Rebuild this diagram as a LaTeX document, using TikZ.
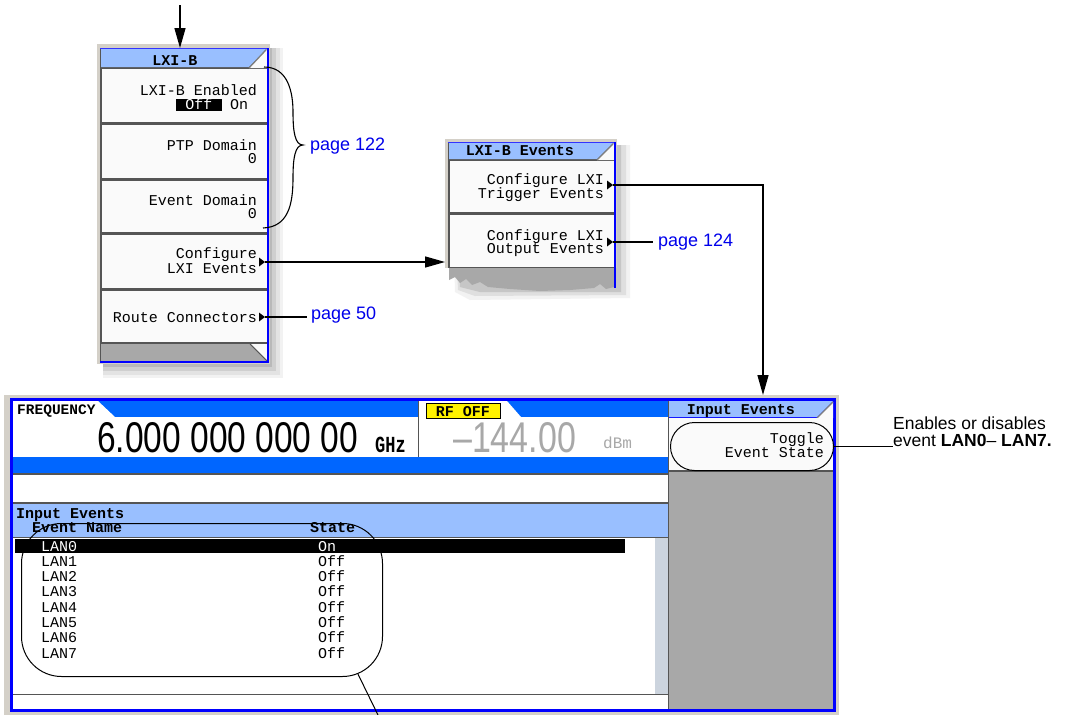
\documentclass[tikz,border=0pt]{standalone}
\usepackage{fontspec}
\setmainfont{Liberation Sans}
\newfontfamily\mono{Liberation Mono}
\usetikzlibrary{arrows.meta,calc}
\definecolor{hdrblue}{RGB}{153,191,255}
\definecolor{barblue}{RGB}{0,102,255}
\definecolor{brdblue}{RGB}{0,0,255}
\definecolor{pnlgray}{RGB}{168,168,168}
\definecolor{sepgray}{RGB}{85,85,85}
\definecolor{keywhite}{RGB}{250,250,250}
\definecolor{scrl}{RGB}{204,212,222}
\definecolor{ampgray}{RGB}{168,168,168}
\definecolor{linkblue}{RGB}{0,0,235}
\definecolor{framegray}{RGB}{212,208,200}
\tikzset{
 monobox/.style={text height=10pt, text depth=1pt, inner sep=0pt},
 keytxt/.style={font=\mono\fontsize{15}{15}\selectfont, monobox, anchor=base east},
 monotxt/.style={font=\mono\fontsize{15}{15}\selectfont, monobox, anchor=base west},
 hdrtxt/.style={font=\mono\bfseries\fontsize{15}{15}\selectfont, monobox, anchor=base},
 hdrwest/.style={font=\mono\bfseries\fontsize{15}{15}\selectfont, monobox, anchor=base west},
 link/.style={font=\fontsize{18}{18}\selectfont, text=linkblue, inner sep=0pt, anchor=base west},
 note/.style={font=\fontsize{17.5}{17}\selectfont, inner sep=0pt, align=left, anchor=north west},
 conn/.style={draw=black, line width=1.4pt},
 arr/.style={conn, -{Triangle[length=20pt,width=11pt]}},
 keybox/.style={fill=keywhite},
 sepline/.style={draw=sepgray, line width=1.2pt},
 panel/.style={inner sep=0pt, anchor=north west},
}
\newcommand\keymark[1]{\fill (#1) ++(-6,-4.5) -- ++(6,4.5) -- ++(-6,4.5) -- cycle;}
\begin{document}
\begin{tikzpicture}[x=1pt,y=-1pt]
\useasboundingbox (0,0) rectangle (1069,715);
\fill[white] (0,0) rectangle (1069,715);

% ================= LXI-B menu =================
\fill[gray!10] (103,48) rectangle (283,378);
\fill[gray!22] (103,48) rectangle (280,375);
\fill[gray!38] (103,48) rectangle (276,371);
\fill[gray!55] (103,48) rectangle (272,367);
\fill[framegray] (97,44) rectangle (270,364);
\fill[sepgray] (100,48) rectangle (268,362);
\node[panel, minimum width=168pt, minimum height=314pt] (M1) at (100,48) {};
\fill[hdrblue] (101,49) -- (266,49) -- (249,67) -- (101,67) -- cycle;
\fill[keywhite] (267,49) -- (267,68) -- (249,68) -- cycle;
\draw[gray, line width=1.2pt] (249,68) -- (266,50);
\fill[keybox] (102,69) rectangle (267,122);
\fill[keybox] (102,125) rectangle (267,178);
\fill[keybox] (102,181) rectangle (267,232);
\fill[keybox] (102,235) rectangle (267,288);
\fill[keybox] (102,291) rectangle (267,342);
\fill[pnlgray] (101,344) -- (250,344) -- (267,361) -- (101,361) -- cycle;
\fill[keywhite] (251,344) -- (267,344) -- (267,360) -- cycle;
\draw[sepgray, line width=1pt] (250,344) -- (267,361);
\draw[brdblue!80!white, line width=1pt] (100,48.5) -- (268,48.5);
\draw[brdblue, line width=2.2pt] (100,362) -- (268,362) -- (268,48);
\node[hdrtxt] (h1) at (175,65) {LXI-B};
\node[keytxt] (t1a) at (257,95) {LXI-B Enabled};
\fill[black] (176,98.5) rectangle (222,110.5);
\node[font=\mono\fontsize{15}{15}\selectfont, monobox, anchor=base, text=white] (t1off) at (199,109) {Off};
\node[monotxt] (t1on) at (230,109) {On};
\node[keytxt] (t2a) at (257,150.5) {PTP Domain};
\node[keytxt] (t2b) at (257,163.5) {0};
\node[keytxt] (t3a) at (257,205) {Event Domain};
\node[keytxt] (t3b) at (257,218) {0};
\node[keytxt] (t4a) at (257,258) {Configure};
\node[keytxt] (t4b) at (257,273) {LXI Events};
\node[keytxt] (t5a) at (257,322) {Route Connectors};
\coordinate (mk4) at (265,262);
\coordinate (mk5) at (265,317);
\keymark{mk4}
\keymark{mk5}

% brace
\draw[line width=1.1pt] (264,67) .. controls (288,67) and (293,92) .. (293,112)
  .. controls (293,132) and (295,145) .. (303,145)
  .. controls (295,145) and (293,158) .. (293,178)
  .. controls (293,205) and (288,227) .. (263,228);
\node[link] (p122) at (310,150) {page 122};
\node[link] (p50) at (311,319) {page 50};

% ================= LXI-B Events menu =================
\fill[gray!10] (451,145) -- (630,145) -- (630,298) -- (470,300) -- (455,292) -- cycle;
\fill[gray!25] (451,145) -- (626,145) -- (626,295) -- (475,296) -- (458,290) -- cycle;
\fill[gray!45] (451,145) -- (621,145) -- (621,292) -- (480,292) -- (460,287) -- cycle;
\fill[framegray] (445,139) rectangle (617,268);
\fill[sepgray] (448,142) rectangle (615,268);
\node[panel, minimum width=167pt, minimum height=146pt] (M2) at (448,142) {};
\fill[hdrblue] (449,143) -- (613,143) -- (597,159) -- (449,159) -- cycle;
\fill[keywhite] (614,143) -- (614,160) -- (597,160) -- cycle;
\draw[gray, line width=1.2pt] (597,160) -- (613,144);
\fill[keybox] (450,161) rectangle (614,212);
\fill[keybox] (450,215) rectangle (614,267);
\fill[pnlgray] (449,268) -- (614,268) -- (614,287) -- (606,289) -- (600,284) -- (594,288)
  -- (570,290) -- (540,291) -- (510,289) -- (488,287) -- (480,282) -- (472,285)
  -- (466,279) -- (460,283) -- (455,277) -- (449,280) -- cycle;
\draw[brdblue!80!white, line width=1pt] (448,142.5) -- (615,142.5);
\draw[brdblue, line width=2.2pt] (615,142) -- (615,288);
\node[hdrtxt] (h2) at (520,155) {LXI-B Events};
\node[keytxt] (u1a) at (604,184) {Configure LXI};
\node[keytxt] (u1b) at (604,198) {Trigger Events};
\node[keytxt] (u2a) at (604,240) {Configure LXI};
\node[keytxt] (u2b) at (604,253) {Output Events};
\coordinate (mk6) at (613,185);
\coordinate (mk7) at (613,242);
\keymark{mk6}
\keymark{mk7}
\node[link] (p124) at (658,246) {page 124};

% ================= Display =================
\fill[framegray] (4,395) rectangle (839,715);
\node[panel, minimum width=835pt, minimum height=320pt] (D) at (4,395) {};
\fill[brdblue] (10,398) rectangle (836,712);
% top strip
\fill[barblue] (13,401) rectangle (668,417);
\fill[white] (13,401) -- (98,401) -- (115,417) -- (13,417) -- cycle;
\fill[white] (419,401) -- (507,401) -- (521,417) -- (419,417) -- cycle;
\fill[white] (13,417) rectangle (668,457);
\draw[sepline] (418.5,401) -- (418.5,457);
\fill[barblue] (13,457) rectangle (668,474);
\fill[white] (13,474) rectangle (668,503);
\fill[hdrblue] (13,503) rectangle (668,537);
\fill[white] (13,538) rectangle (655,694);
\fill[scrl] (655,538) rectangle (668,694);
\fill[white] (13,695) rectangle (668,709);
\draw[sepline] (13,474) -- (668,474);
\draw[sepline] (13,503) -- (668,503);
\draw[sepline] (13,537.5) -- (668,537.5);
\draw[sepline] (13,694.5) -- (668,694.5);
% right panel
\fill[hdrblue] (669,401) -- (833,401) -- (817,417) -- (669,417) -- cycle;
\fill[keywhite] (833,402) -- (833,418) -- (817,418) -- cycle;
\draw[gray, line width=1.2pt] (817,418) -- (833,402);
\fill[keywhite] (669,418) rectangle (833,471);
\fill[pnlgray] (669,471) rectangle (833,709);
\draw[sepline] (669,471) -- (833,471);
\draw[sepline] (668.5,401) -- (668.5,709);
% RF OFF
\fill[yellow] (426,403) rectangle (500,418);
\draw[black, line width=0.8pt] (426,403) rectangle (500,418);
\node[hdrtxt] (rfoff) at (463,416) {RF OFF};
\node[font=\mono\bfseries\fontsize{14.5}{14.5}\selectfont, monobox, anchor=base west] (freqlbl) at (17,414) {FREQUENCY};
\node[font=\fontsize{43}{43}\selectfont, inner sep=0pt, anchor=base west] (freq) at (97,452) {\scalebox{0.78}[1]{6.000 000 000 00}};
\node[font=\mono\bfseries\fontsize{20}{20}\selectfont, inner sep=0pt, anchor=base west] (ghz) at (375,452) {\scalebox{0.85}[1.15]{GHz}};
\node[font=\fontsize{43}{43}\selectfont, text=ampgray, inner sep=0pt, anchor=base west] (amp) at (453,452) {\scalebox{0.79}[1]{–144.00}};
\node[font=\mono\fontsize{16}{16}\selectfont, text=ampgray, inner sep=0pt, anchor=base west] (dbm) at (603,448) {dBm};
% table
\node[hdrwest] (ietitle) at (16,518) {Input Events};
\node[hdrwest] (colname) at (32,532) {Event Name};
\node[hdrwest] (colstate) at (310,532) {State};
\fill[black] (15,539) rectangle (625,553);
\node[monotxt, text=white] (r0) at (41,551) {LAN0};
\node[monotxt, text=white] (s0) at (318,551) {On};
\node[monotxt] (r1) at (41,566.3) {LAN1};
\node[monotxt] (s1) at (318,566.3) {Off};
\node[monotxt] (r2) at (41,581.6) {LAN2};
\node[monotxt] (s2) at (318,581.6) {Off};
\node[monotxt] (r3) at (41,596.9) {LAN3};
\node[monotxt] (s3) at (318,596.9) {Off};
\node[monotxt] (r4) at (41,612.2) {LAN4};
\node[monotxt] (s4) at (318,612.2) {Off};
\node[monotxt] (r5) at (41,627.5) {LAN5};
\node[monotxt] (s5) at (318,627.5) {Off};
\node[monotxt] (r6) at (41,642.8) {LAN6};
\node[monotxt] (s6) at (318,642.8) {Off};
\node[monotxt] (r7) at (41,658.1) {LAN7};
\node[monotxt] (s7) at (318,658.1) {Off};
% right key
\node[hdrtxt] (h3) at (741,414) {Input Events};
\node[keytxt] (k1a) at (824,443) {Toggle};
\node[keytxt] (k1b) at (824,457) {Event State};
\node[draw, line width=1pt, rounded corners=24pt, minimum width=163pt, minimum height=48pt, panel] (ov) at (670,422) {};

% callout around list
\node[draw, line width=1pt, rounded corners=40pt, minimum width=361pt, minimum height=153pt, panel] (lst) at (21,523) {};
\coordinate (lstc) at ([xshift=-40pt,yshift=40pt]lst.south east);
\coordinate (lstp) at ($(lstc)+(-68:40pt)$);
\coordinate (leadend) at (378,715);
\draw[conn, line width=1pt] (lstp) -- (leadend);

% note
\node[note] (en) at (893,417) {Enables or disables\\event \textbf{LAN0}– \textbf{LAN7.}};

% ================= connectors =================
\coordinate (topin) at (180,5);
\draw[arr] (topin) -- (topin |- M1.north);
\draw[arr, shorten >=3pt] (mk4) -- (mk4 -| M2.west);
\draw[conn] (mk5) -- ([xshift=-4pt]mk5 -| p50.west);
\draw[conn] (mk7) -- ([xshift=-5pt]mk7 -| p124.west);
\coordinate (bend) at (763,185);
\draw[arr] (mk6) -- (bend) -- (bend |- D.north);
\draw[conn] (ov.east) -- (ov.east -| en.west);
\end{tikzpicture}
\end{document}
